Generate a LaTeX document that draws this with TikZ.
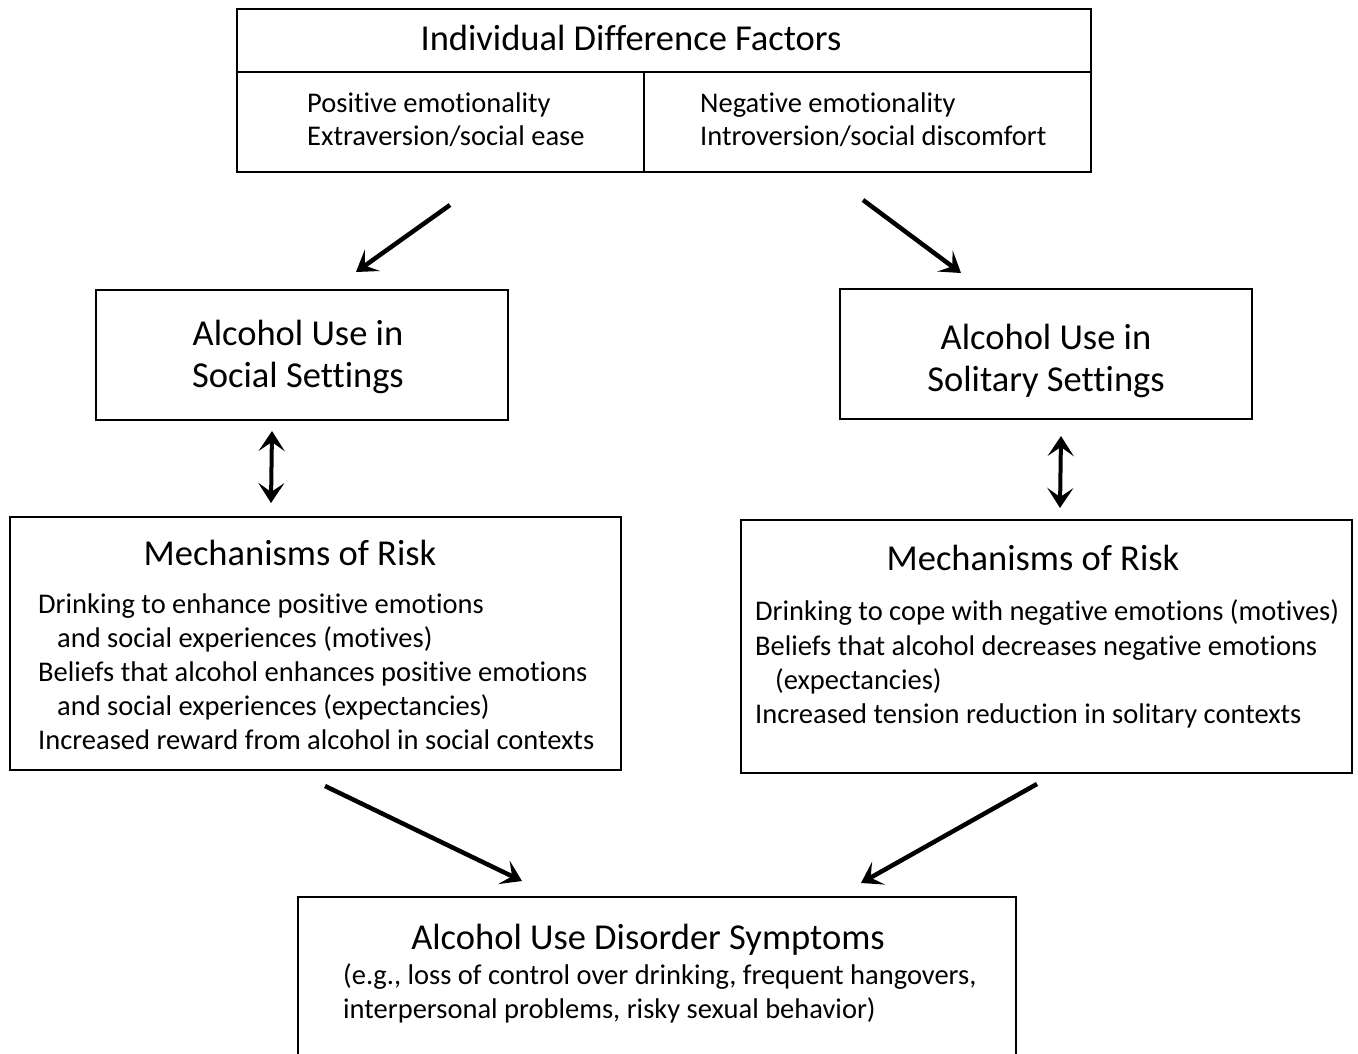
\documentclass[tikz,border=0pt]{standalone}
\usepackage{fontspec}
\setmainfont{Carlito}[Ligatures=NoCommon]
\usetikzlibrary{arrows.meta}
\begin{document}
\begin{tikzpicture}[x=1pt,y=-1pt,
  box/.style={draw=black,line width=2pt},
  body/.style={anchor=base west,inner sep=0pt,font=\fontsize{28.5}{34}\selectfont},
  big/.style={anchor=base,inner sep=0pt,font=\fontsize{36.5}{42}\selectfont},
  tip/.tip={Stealth[length=20pt,width=26pt,inset=9pt]},
  arr/.style={line width=4.5pt,-tip},
  darr/.style={line width=4pt,tip-tip}
]
\useasboundingbox (0,0) rectangle (1358,1053);
\fill[white] (0,0) rectangle (1358,1053);
% top box
\draw[box] (237,9) rectangle (1091,172);
\draw[box] (237,72) -- (1091,72);
\draw[box] (644,72) -- (644,172);
\node[big] (idf) at (631,50.7) {Individual Difference Factors};
\node[body] (p1) at (307,112.7) {Positive emotionality};
\node[body] (p2) at (307,145) {Extraversion/social ease};
\node[body] (n1) at (700,112.7) {Negative emotionality};
\node[body] (n2) at (700,145) {Introversion/social discomfort};
% middle boxes
\draw[box] (96,290) rectangle (508,420);
\node[big] (soc1) at (298,345) {Alcohol Use in};
\node[big] (soc2) at (298,387) {Social Settings};
\draw[box] (840,289) rectangle (1252,419);
\node[big] (sol1) at (1046,349) {Alcohol Use in};
\node[big] (sol2) at (1046,391) {Solitary Settings};
% mechanisms left
\draw[box] (10,517) rectangle (621,770);
\node[big] (ml) at (290,565) {Mechanisms of Risk};
\node[body] (l1) at (38,613) {Drinking to enhance positive emotions};
\node[body] (l2) at (57,647) {and social experiences (motives)};
\node[body] (l3) at (38,681) {Beliefs that alcohol enhances positive emotions};
\node[body] (l4) at (57,715) {and social experiences (expectancies)};
\node[body] (l5) at (38,749) {Increased reward from alcohol in social contexts};
% mechanisms right
\draw[box] (741,520) rectangle (1352,773);
\node[big] (mr) at (1033,570.5) {Mechanisms of Risk};
\node[body] (r1) at (755,620.5) {Drinking to cope with negative emotions (motives)};
\node[body] (r2) at (755,655) {Beliefs that alcohol decreases negative emotions};
\node[body] (r3) at (775,689) {(expectancies)};
\node[body] (r4) at (755,723.5) {Increased tension reduction in solitary contexts};
% bottom
\draw[box] (298,1060) -- (298,897) -- (1016,897) -- (1016,1060);
\node[big] (aud) at (648,949) {Alcohol Use Disorder Symptoms};
\node[body] (b1) at (343,984) {(e.g., loss of control over drinking, frequent hangovers,};
\node[body] (b2) at (343,1018) {interpersonal problems, risky sexual behavior)};
% arrows
\coordinate (a1s) at (450,205); \coordinate (a1e) at (356,272);
\coordinate (a2s) at (863,200); \coordinate (a2e) at (961,273);
\coordinate (d1s) at (272,431); \coordinate (d1e) at (271,503);
\coordinate (d2s) at (1061,436); \coordinate (d2e) at (1060,508);
\coordinate (a3s) at (325,786); \coordinate (a3e) at (522,881);
\coordinate (a4s) at (1037,784); \coordinate (a4e) at (861,883);
\draw[arr] (a1s) -- (a1e);
\draw[arr] (a2s) -- (a2e);
\draw[darr] (d1s) -- (d1e);
\draw[darr] (d2s) -- (d2e);
\draw[arr] (a3s) -- (a3e);
\draw[arr] (a4s) -- (a4e);
\end{tikzpicture}
\end{document}
